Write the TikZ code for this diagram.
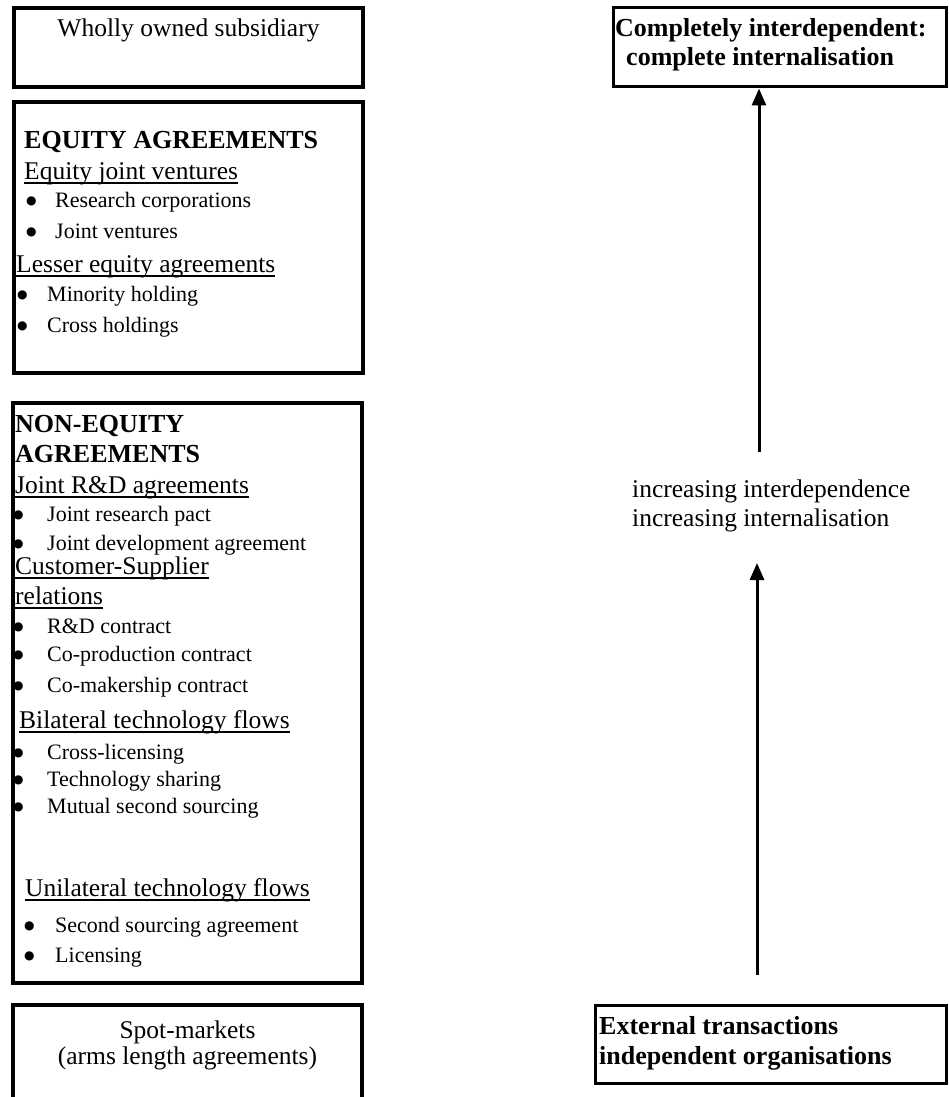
\documentclass[tikz,border=0pt]{standalone}
\usepackage{fontspec}
\setmainfont{Liberation Serif}
\newfontfamily\symfont{DejaVu Sans}
\usetikzlibrary{arrows.meta}

\newsavebox{\ulbox}
\newcommand{\uln}[1]{\sbox{\ulbox}{#1}\rlap{\rule[-4.7pt]{\wd\ulbox}{1.4pt}}\usebox{\ulbox}}
\newcommand{\bul}[1]{\makebox[#1][l]{\symfont\fontsize{12}{12}\selectfont\raisebox{3pt}{●}}}

\begin{document}
\begin{tikzpicture}[x=1pt,y=-1pt,font=\fontsize{25.5}{30}\selectfont,
    box/.style={draw=black,line width=4pt,inner sep=0pt},
    lbl/.style={anchor=base west,inner sep=0pt},
    hd/.style={lbl,font=\fontsize{26}{30}\selectfont\bfseries},
    itm/.style={lbl,font=\fontsize{22}{26}\selectfont},
    mid/.style={anchor=base,inner sep=0pt},
    arrow/.style={-{Triangle[length=17pt,width=14pt]},line width=3pt}]
    \useasboundingbox (0,0) rectangle (949,1097);

    % left column
    \node (whole) [box,minimum width=349pt,minimum height=79pt] at (188.5,47.5) {};
    \node (equity) [box,minimum width=349pt,minimum height=271pt] at (188.5,237.5) {};
    \node (nonequity) [box,minimum width=349pt,minimum height=580pt] at (187.5,693) {};
    \node (spot) [box,minimum width=349pt,minimum height=120pt] at (187.5,1065) {};

    \node (wholetxt) [mid] at (188.5,37) {Wholly owned subsidiary};

    \node (eqhead) [hd] at (24,148) {EQUITY AGREEMENTS};
    \node (eqjv) [lbl] at (24,179) {\uln{Equity joint ventures}};
    \node (eqrc) [itm] at (26,207) {\bul{29pt}Research corporations};
    \node (eqjvs) [itm] at (26,238) {\bul{29pt}Joint ventures};
    \node (eqless) [lbl] at (16,272) {\uln{Lesser equity agreements}};
    \node (eqmin) [itm] at (17,301) {\bul{30pt}Minority holding};
    \node (eqcross) [itm] at (17,332) {\bul{30pt}Cross holdings};

    \node (nehead) [hd] at (15,432) {NON-EQUITY};
    \node (neagr) [hd] at (15,462) {AGREEMENTS};
    \node (nerd) [lbl] at (15,493) {\uln{Joint R\&D agreements}};
    \node (nepact) [itm] at (13,521) {\bul{34pt}Joint research pact};
    \node (nedev) [itm] at (13,550) {\bul{34pt}Joint development agreement};
    \node (necust) [lbl] at (15,574) {\uln{Customer-Supplier}};
    \node (nerel) [lbl] at (15,604) {\uln{relations}};
    \node (necon) [itm] at (13,633) {\bul{34pt}R\&D contract};
    \node (neprod) [itm] at (13,661) {\bul{34pt}Co-production contract};
    \node (nemak) [itm] at (13,692) {\bul{34pt}Co-makership contract};
    \node (nebil) [lbl] at (19,728) {\uln{Bilateral technology flows}};
    \node (necross) [itm] at (13,759) {\bul{34pt}Cross-licensing};
    \node (neshare) [itm] at (13,786) {\bul{34pt}Technology sharing};
    \node (nemut) [itm] at (13,813) {\bul{34pt}Mutual second sourcing};
    \node (neuni) [lbl] at (25,896) {\uln{Unilateral technology flows}};
    \node (nesec) [itm] at (24,932) {\bul{31pt}Second sourcing agreement};
    \node (nelic) [itm] at (24,962) {\bul{31pt}Licensing};

    \node (spot1) [mid] at (187.5,1038) {Spot-markets};
    \node (spot2) [mid] at (187.5,1064) {(arms length agreements)};

    % right column
    \node (top) [box,line width=3pt,minimum width=333pt,minimum height=79pt] at (779.5,47.5) {};
    \node (ext) [box,line width=3pt,minimum width=351pt,minimum height=78pt] at (770.5,1044) {};

    \node (top1) [hd] at (615,37) {Completely interdependent:};
    \node (top2) [hd] at (626,66) {complete internalisation};
    \node (mid1) [lbl] at (632,497) {increasing interdependence};
    \node (mid2) [lbl] at (632,526) {increasing internalisation};
    \node (ext1) [hd] at (599,1034) {External transactions};
    \node (ext2) [hd] at (599,1064) {independent organisations};

    \coordinate (tail1) at (759,452);
    \coordinate (tail2) at (757,975);
    \coordinate (head2) at (757,563);
    \draw[arrow] (tail1) -- (tail1 |- top.south);
    \draw[arrow] (tail2) -- (head2);
\end{tikzpicture}
\end{document}
